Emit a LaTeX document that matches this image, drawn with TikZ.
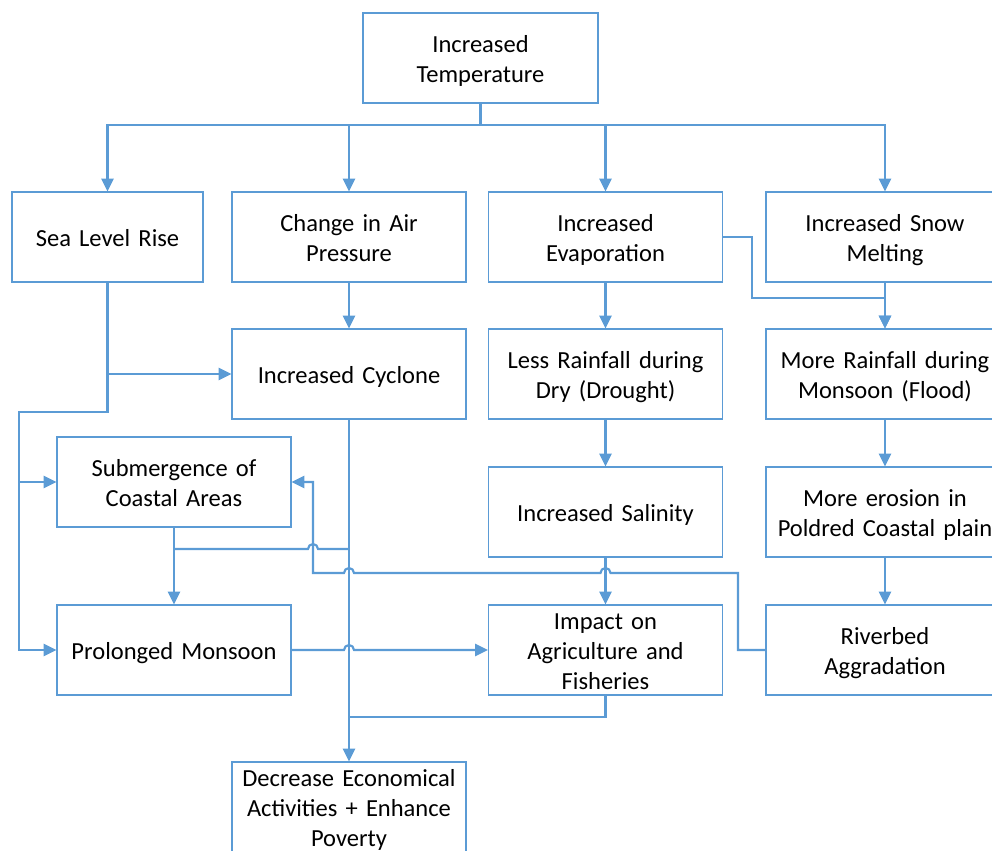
\documentclass[tikz,border=0pt]{standalone}
\usepackage{fontspec}
\setmainfont{Carlito}
\usetikzlibrary{arrows.meta}
\definecolor{lineblue}{HTML}{5B9BD5}
\begin{document}
\begin{tikzpicture}[x=0.75pt,y=-0.75pt,
 box/.style={draw=lineblue,line width=0.9pt,inner sep=0pt,align=center,font=\fontsize{18.4}{22.5}\selectfont,minimum height=67.5pt,
   execute at begin node={\rule{0pt}{18pt}}, execute at end node={\rule[-4.5pt]{0pt}{4.5pt}}},
 wbox/.style={box,text width=175.5pt},
 rbox/.style={box,text width=178.5pt},
 conn/.style={draw=lineblue,line width=1.6pt},
 arr/.style={conn,-{Triangle[length=9.5pt,width=9pt]}}]
\useasboundingbox (0,0) rectangle (992,850);
\clip (0,0) rectangle (992,850);
% nodes
\node[box,text width=176.25pt] (temp) at (480.5,58) {Increased\\Temperature};
\node[box,text width=143.25pt] (slr) at (107.5,237) {Sea Level Rise};
\node[wbox] (air) at (349,237) {Change in Air\\Pressure};
\node[wbox] (evap) at (605.5,237) {Increased\\Evaporation};
\node[rbox] (snow) at (885,237) {Increased Snow\\Melting};
\node[wbox] (cyc) at (349,374) {Increased Cyclone};
\node[wbox] (less) at (605.5,374) {Less Rainfall during\\Dry (Drought)};
\node[rbox] (more) at (885,374) {More Rainfall during\\Monsoon (Flood)};
\node[wbox] (sub) at (174,482) {Submergence of\\Coastal Areas};
\node[wbox] (sal) at (605.5,512) {Increased Salinity};
\node[rbox] (ero) at (885,512) {More erosion in\\Poldred Coastal plain};
\node[wbox] (pro) at (174,650) {Prolonged Monsoon};
\node[wbox] (imp) at (605.5,650) {Impact on\\Agriculture and\\Fisheries};
\node[rbox] (riv) at (885,650) {Riverbed\\Aggradation};
\node[wbox] (dec) at (349,807) {Decrease Economical\\Activities + Enhance\\Poverty};
% helper coordinates
\coordinate (tb) at (480.5,125);
\coordinate (s1) at (107.5,412);
\coordinate (s2) at (19,412);
\coordinate (j1) at (174,549);
\coordinate (j2) at (349,549);
\coordinate (r1) at (738,650);
\coordinate (r2) at (738,573);
\coordinate (r3) at (313,573);
\coordinate (e1) at (752,237);
\coordinate (e2) at (752,298);
\coordinate (i1) at (605.5,717);
\coordinate (i2) at (349,717);
% top fan-out
\draw[conn] (temp.south) -- (tb);
\draw[arr] (tb) -| (slr.north);
\draw[arr] (tb) -| (air.north);
\draw[arr] (tb) -| (evap.north);
\draw[arr] (tb) -| (snow.north);
% sea level rise
\draw[arr] (slr.south) -- (s1) -- (s2) |- (pro.west);
\draw[arr] (s2) |- (sub.west);
\draw[arr] (slr.south |- cyc.west) -- (cyc.west);
% column 2
\draw[arr] (air) -- (cyc);
\draw[arr] (cyc.south) -- (dec.north);
% submergence
\draw[arr] (sub.south) -- (pro.north);
\draw[conn] (j1) -- (308,549) arc[start angle=180,end angle=0,radius=3.75pt] -- (j2);
% riverbed back to submergence
\draw[arr] (riv.west) -- (r1) -- (r2) -- (610.5,573)
  arc[start angle=0,end angle=180,radius=3.75pt] -- (354,573)
  arc[start angle=0,end angle=180,radius=3.75pt] -- (r3) |- (sub.east);
% column 3
\draw[arr] (evap) -- (less);
\draw[arr] (less) -- (sal);
\draw[arr] (sal) -- (imp);
\draw[conn] (imp.south) -- (i1) -- (i2);
% prolonged monsoon to impact
\draw[arr] (pro.east) -- (344,650) arc[start angle=180,end angle=0,radius=3.75pt] -- (imp.west);
% column 4
\draw[arr] (snow) -- (more);
\draw[arr] (evap.east) -- (e1) -- (e2) -| (more.north);
\draw[arr] (more) -- (ero);
\draw[arr] (ero) -- (riv);
\end{tikzpicture}
\end{document}
